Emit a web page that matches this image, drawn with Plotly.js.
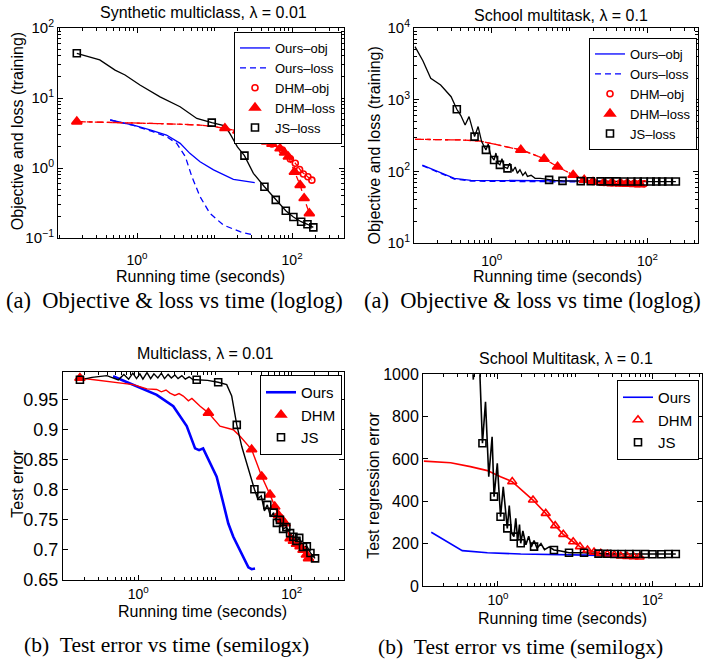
<!DOCTYPE html>
<html><head><meta charset="utf-8">
<script src="https://cdn.plot.ly/plotly-3.0.1.min.js"></script>
<style>html,body{margin:0;padding:0;background:#fff;}#chart{width:708px;height:664px;}</style>
</head><body><div id="chart"></div>
<script>
// ---------- Panel 1: Synthetic multiclass, lambda = 0.01 (loglog) ----------
const p1OursObjX = [0.45, 0.9, 1.47, 2.4, 3.6, 4.8, 6.5, 9.7, 17.5, 33];
const p1OursObjY = [4.85, 4.1, 3.5, 2.96, 2.25, 1.62, 1.23, 0.94, 0.69, 0.62];
const p1OursLossX = [0.45, 0.9, 1.6, 2.4, 3.25, 4.2, 5.1, 6.5, 8.7, 13, 21.3, 31.7];
const p1OursLossY = [4.85, 4.05, 3.3, 2.8, 2.25, 1.45, 0.75, 0.39, 0.225, 0.153, 0.123, 0.11];
const p1DhmObjX = [0.167, 0.3, 0.6, 1, 2, 4, 6.5, 10, 13.6, 20, 31.7, 47, 70, 89.6, 110, 133, 160, 180];
const p1DhmObjY = [4.6, 4.55, 4.45, 4.35, 4.3, 4.2, 4.1, 3.9, 3.7, 3.4, 2.96, 2.38, 1.9, 1.45, 1.17, 0.885, 0.75, 0.67];
const p1DhmLossX = [0.167, 0.3, 0.6, 1, 2, 4, 6.5, 10, 13.6, 20, 31.7, 47, 70, 89.6, 107, 127, 143, 167];
const p1DhmLossY = [4.6, 4.55, 4.45, 4.35, 4.3, 4.2, 4.1, 3.9, 3.7, 3.4, 2.96, 2.38, 1.9, 1.45, 0.88, 0.57, 0.37, 0.225];
const p1DhmObjMarkX = [20, 40, 55, 75, 95, 110, 125, 140, 160, 180];
const p1DhmObjMarkY = [3.4, 2.6, 2.2, 1.8, 1.35, 1.17, 0.95, 0.82, 0.75, 0.67];
const p1DhmLossMarkX = [0.167, 13.6, 20, 25, 31.7, 38, 47, 55, 70, 80, 89.6, 107, 127, 143, 167];
const p1DhmLossMarkY = [4.6, 3.7, 3.4, 3.2, 2.96, 2.7, 2.38, 2.2, 1.9, 1.65, 1.45, 0.88, 0.57, 0.37, 0.225];
const p1JsX = [0.167, 0.33, 0.52, 0.70, 1.09, 1.98, 3.59, 5.9, 9.2, 13.6, 15.8, 19.7, 24.3, 31.7, 44, 61.6, 83, 104, 131, 158, 188];
const p1JsY = [43.5, 35, 25, 21.3, 15.3, 10.4, 7.5, 5.1, 4.45, 4.0, 3.1, 2.0, 1.5, 0.84, 0.54, 0.35, 0.245, 0.2, 0.171, 0.157, 0.142];
const p1JsMarkX = [0.167, 9.2, 24.3, 44, 61.6, 83, 104, 131, 158, 188];
const p1JsMarkY = [43.5, 4.45, 1.5, 0.54, 0.35, 0.245, 0.2, 0.171, 0.157, 0.142];

// ---------- Panel 2: School multitask, lambda = 0.1 (loglog) ----------
const p2OursObjX = [0.128, 0.181, 0.25, 0.33, 0.54, 1.44, 5, 15, 30.6];
const p2OursObjY = [122, 105, 90, 80, 75, 74.5, 74, 73.5, 73];
const p2OursLossX = [0.128, 0.181, 0.25, 0.33, 0.54, 1.44, 5, 15, 30.6];
const p2OursLossY = [120, 103, 88, 78, 73, 72, 71.5, 71, 71];
const p2DhmObjX = [0.103, 0.2, 0.4, 0.7, 1.07, 1.6, 2.36, 3.3, 4.7, 7.0, 11.1, 15.4, 20, 27.7, 40, 60, 90.7];
const p2DhmObjY = [280, 278, 274, 265, 241, 222, 199, 175, 149, 116, 89, 76, 72, 70, 69, 68, 67];
const p2DhmLossX = [0.103, 0.2, 0.4, 0.7, 1.07, 1.6, 2.36, 3.3, 4.7, 7.0, 11.1, 15.4, 20, 27.7, 40, 60, 90.7];
const p2DhmLossY = [280, 278, 274, 265, 241, 222, 199, 175, 149, 116, 89, 76, 71, 69, 67, 66, 65];
const p2DhmObjMarkX = [20, 27.7, 35, 45, 55, 68, 80, 90.7];
const p2DhmObjMarkY = [72, 70, 69.5, 69, 68.5, 68, 67.5, 67];
const p2DhmLossMarkX = [2.36, 4.7, 7.0, 11.1, 15.4, 20, 27.7, 35, 45, 55, 68, 80];
const p2DhmLossMarkY = [199, 149, 116, 89, 76, 71, 69, 68, 67, 66.5, 66, 65.5];
const p2JsX = [0.103, 0.13, 0.164, 0.22, 0.30, 0.355, 0.40, 0.454, 0.51, 0.60, 0.667, 0.74, 0.84, 0.90, 0.97, 1.07, 1.13, 1.2, 1.27, 1.35, 1.45, 1.59, 1.7, 1.85, 2.0, 2.13, 2.3, 2.5, 2.7, 2.87, 3.2, 3.6, 4.2, 5.45, 6.5, 8.1, 12, 20, 40, 80, 150, 232];
const p2JsY = [5500, 3500, 1990, 1600, 1100, 735, 600, 444, 580, 305, 421, 260, 199, 240, 165, 144, 180, 130, 123, 150, 115, 110, 130, 100, 115, 94, 105, 88, 97, 85, 88, 80, 80, 76, 75, 73.5, 73, 72.5, 72.5, 72, 72, 72];
const p2JsMarkX = [0.355, 0.6, 0.84, 1.07, 1.27, 1.59, 5.45, 8.1, 13.9, 18.7, 25, 32, 40, 50, 62, 75, 90, 110, 130, 155, 185, 232];
const p2JsMarkY = [735, 305, 199, 144, 123, 110, 76, 73.5, 73, 72.8, 72.5, 72.5, 72.5, 72.3, 72.2, 72, 72, 72, 72, 72, 72, 72];

// ---------- Panel 3: Multiclass, lambda = 0.01 (semilogx) ----------
const p3OursX = [0.47, 0.86, 1.74, 2.86, 4.28, 5.5, 6.2, 7.0, 8.2, 10.5, 12.8, 14.9, 17.3, 21.2, 27.2, 30, 33.2];
const p3OursY = [0.989, 0.975, 0.958, 0.939, 0.906, 0.869, 0.866, 0.869, 0.85, 0.822, 0.778, 0.744, 0.722, 0.7, 0.671, 0.668, 0.669];
const p3DhmX = [0.174, 0.43, 0.86, 1.3, 1.74, 2.0, 2.3, 2.59, 3.0, 3.4, 3.86, 4.5, 5.0, 6.4, 8.2, 11.6, 17.3, 21.2, 30, 40.6, 52, 66.9, 81.8, 95, 128, 165];
const p3DhmY = [0.986, 0.98, 0.975, 0.968, 0.967, 0.963, 0.966, 0.961, 0.957, 0.96, 0.956, 0.948, 0.952, 0.939, 0.928, 0.906, 0.9, 0.889, 0.867, 0.822, 0.792, 0.758, 0.744, 0.719, 0.706, 0.686];
const p3DhmMarkX = [0.174, 8.2, 30, 40.6, 52, 60, 66.9, 75, 81.8, 95, 105, 115, 128, 140, 155, 165];
const p3DhmMarkY = [0.986, 0.928, 0.867, 0.822, 0.792, 0.772, 0.758, 0.75, 0.744, 0.719, 0.715, 0.71, 0.706, 0.7, 0.692, 0.686];
const p3JsX = [0.174, 0.25, 0.39, 0.55, 0.65, 0.75, 0.85, 0.95, 1.05, 1.15, 1.3, 1.45, 1.6, 1.8, 2.0, 2.2, 2.45, 2.7, 3.0, 3.3, 3.7, 4.1, 4.6, 5.2, 5.77, 8, 11, 14.2, 16.5, 19.2, 22.3, 27.2, 32.6, 36, 40, 44, 48, 53, 58, 64, 70, 77, 85, 95, 105, 115, 125, 140, 157, 175, 201];
const p3JsY = [0.983, 0.987, 0.99, 0.983, 0.992, 0.984, 0.994, 0.985, 0.993, 0.984, 0.995, 0.985, 0.993, 0.986, 0.994, 0.985, 0.992, 0.986, 0.991, 0.985, 0.99, 0.984, 0.988, 0.983, 0.983, 0.982, 0.979, 0.975, 0.956, 0.908, 0.872, 0.833, 0.801, 0.785, 0.79, 0.765, 0.775, 0.755, 0.762, 0.745, 0.75, 0.735, 0.738, 0.728, 0.722, 0.715, 0.72, 0.705, 0.706, 0.695, 0.686];
const p3JsMarkX = [0.174, 5.77, 11, 19.2, 32.6, 40, 48, 58, 64, 70, 77, 85, 95, 105, 115, 125, 140, 157, 175, 201];
const p3JsMarkY = [0.983, 0.983, 0.979, 0.908, 0.801, 0.79, 0.775, 0.762, 0.745, 0.75, 0.735, 0.738, 0.728, 0.722, 0.715, 0.72, 0.705, 0.706, 0.695, 0.686];

// ---------- Panel 4: School Multitask, lambda = 0.1 (semilogx) ----------
const p4OursX = [0.137, 0.345, 0.73, 1.97, 14.4, 35];
const p4OursY = [254, 167, 157, 151, 146, 142];
const p4DhmX = [0.11, 0.244, 0.44, 0.73, 1.08, 1.53, 2.84, 4.15, 5.5, 7.0, 9.4, 11.5, 14.4, 21.4, 38.8, 77.8];
const p4DhmY = [590, 582, 564, 545, 516, 493, 406, 343, 285, 244, 209, 186, 170, 154, 142, 136];
const p4DhmMarkX = [1.53, 2.84, 4.15, 5.5, 7.0, 9.4, 11.5, 14.4, 17.5, 21.4, 26, 32, 38.8, 47, 57, 68];
const p4DhmMarkY = [493, 406, 343, 285, 244, 209, 186, 170, 160, 154, 150, 146, 142, 140, 138, 137];
const p4JsX = [0.46, 0.48, 0.5, 0.57, 0.63, 0.69, 0.76, 0.84, 0.89, 0.98, 1.08, 1.17, 1.32, 1.4, 1.5, 1.61, 1.7, 1.8, 1.9, 1.97, 2.1, 2.3, 2.5, 2.7, 2.93, 3.2, 3.6, 4.0, 4.6, 5.3, 6.5, 8.3, 13, 20, 40, 80, 130, 200];
const p4JsY = [1100, 975, 1150, 1100, 674, 870, 516, 705, 422, 580, 327, 469, 272, 380, 250, 233, 320, 215, 290, 202, 260, 195, 235, 185, 215, 178, 200, 172, 185, 170, 165, 157, 157, 153, 151, 151, 150, 151];
const p4JsMarkX = [0.63, 0.89, 1.08, 1.32, 1.61, 1.97, 2.93, 5.3, 8.3, 13, 20, 26, 32, 40, 50, 62, 80, 100, 130, 160, 200];
const p4JsMarkY = [674, 422, 327, 272, 233, 202, 186, 170, 157, 157, 153, 152, 151, 151, 151, 151, 151, 150, 150, 151, 151];

// ---------- Text ----------
const titles = ['Synthetic multiclass, \u03bb = 0.01', 'School multitask, \u03bb = 0.1', 'Multiclass, \u03bb = 0.01', 'School Multitask, \u03bb = 0.1'];
const xTitle = 'Running time (seconds)';
const yTitles = ['Objective and loss (training)', 'Objective and loss (training)', 'Test error', 'Test regression error'];
const captions = ['(a)\u2002Objective &amp; loss vs time (loglog)', '(a)\u2002Objective &amp; loss vs time (loglog)', '(b)\u2002Test error vs time (semilogx)', '(b)\u2002Test error vs time (semilogx)'];
const logTickVals = [0.1, 1, 10, 100, 1000, 10000];
const logTickText = ['10<sup>\u22121</sup>', '10<sup>0</sup>', '10<sup>1</sup>', '10<sup>2</sup>', '10<sup>3</sup>', '10<sup>4</sup>'];
const xTickVals = [1, 100];
const xTickText = ['10<sup>0</sup>', '10<sup>2</sup>'];
const p3YTicks = [0.65, 0.7, 0.75, 0.8, 0.85, 0.9, 0.95];
const p3YTickText = ['0.65', '0.7', '0.75', '0.8', '0.85', '0.9', '0.95'];
const p4YTicks = [0, 200, 400, 600, 800, 1000];

// ---------- Styling ----------
const W = 708, H = 664;
const SANS = 'Liberation Sans, Arial, Helvetica, sans-serif';
const SERIF = 'Liberation Serif, Times New Roman, serif';
const BLUE = '#0000ff', RED = '#ff0000', BLACK = '#000000';
const px = v => v / W, py = v => 1 - v / H;

function line(x, y, xa, ya, color, width, dash, name, legend, show) {
  return {x: x, y: y, xaxis: xa, yaxis: ya, type: 'scatter', mode: 'lines', name: name,
    legend: legend, showlegend: !!show, line: {color: color, width: width, dash: dash || 'solid'}, hoverinfo: 'skip'};
}
function marks(x, y, xa, ya, color, symbol, size, name, legend) {
  return {x: x, y: y, xaxis: xa, yaxis: ya, type: 'scatter', mode: 'markers', name: name, legend: legend,
    showlegend: true, marker: {color: color, symbol: symbol, size: size, line: {color: color, width: 1.6}}, hoverinfo: 'skip'};
}

const traces = [
  // panel 1
  line(p1OursObjX, p1OursObjY, 'x', 'y', BLUE, 1.3, 'solid', 'Ours\u2013obj', 'legend', true),
  line(p1OursLossX, p1OursLossY, 'x', 'y', BLUE, 1.3, '6px,4px', 'Ours\u2013loss', 'legend', true),
  line(p1DhmObjX, p1DhmObjY, 'x', 'y', RED, 1.3, 'dashdot', 'dhm obj line', 'legend', false),
  line(p1DhmLossX, p1DhmLossY, 'x', 'y', RED, 1.3, '6px,4px', 'dhm loss line', 'legend', false),
  line(p1JsX, p1JsY, 'x', 'y', BLACK, 1.3, 'solid', 'js line', 'legend', false),
  marks(p1DhmObjMarkX, p1DhmObjMarkY, 'x', 'y', RED, 'circle-open', 6, 'DHM\u2013obj', 'legend'),
  marks(p1DhmLossMarkX, p1DhmLossMarkY, 'x', 'y', RED, 'triangle-up', 9, 'DHM\u2013loss', 'legend'),
  marks(p1JsMarkX, p1JsMarkY, 'x', 'y', BLACK, 'square-open', 7, 'JS\u2013loss', 'legend'),
  // panel 2
  line(p2OursObjX, p2OursObjY, 'x2', 'y2', BLUE, 1.3, 'solid', 'Ours\u2013obj', 'legend2', true),
  line(p2OursLossX, p2OursLossY, 'x2', 'y2', BLUE, 1.3, '6px,4px', 'Ours\u2013loss', 'legend2', true),
  line(p2DhmObjX, p2DhmObjY, 'x2', 'y2', RED, 1.3, 'dashdot', 'dhm obj line', 'legend2', false),
  line(p2DhmLossX, p2DhmLossY, 'x2', 'y2', RED, 1.3, '6px,4px', 'dhm loss line', 'legend2', false),
  line(p2JsX, p2JsY, 'x2', 'y2', BLACK, 1.3, 'solid', 'js line', 'legend2', false),
  marks(p2DhmObjMarkX, p2DhmObjMarkY, 'x2', 'y2', RED, 'circle-open', 6, 'DHM\u2013obj', 'legend2'),
  marks(p2DhmLossMarkX, p2DhmLossMarkY, 'x2', 'y2', RED, 'triangle-up', 9, 'DHM\u2013loss', 'legend2'),
  marks(p2JsMarkX, p2JsMarkY, 'x2', 'y2', BLACK, 'square-open', 7, 'JS\u2013loss', 'legend2'),
  // panel 3
  line(p3OursX, p3OursY, 'x3', 'y3', BLUE, 2.6, 'solid', 'Ours', 'legend3', true),
  line(p3DhmX, p3DhmY, 'x3', 'y3', RED, 1.4, 'solid', 'dhm line', 'legend3', false),
  line(p3JsX, p3JsY, 'x3', 'y3', BLACK, 1.4, 'solid', 'js line', 'legend3', false),
  marks(p3DhmMarkX, p3DhmMarkY, 'x3', 'y3', RED, 'triangle-up', 9, 'DHM', 'legend3'),
  marks(p3JsMarkX, p3JsMarkY, 'x3', 'y3', BLACK, 'square-open', 7, 'JS', 'legend3'),
  // panel 4
  line(p4OursX, p4OursY, 'x4', 'y4', BLUE, 1.6, 'solid', 'Ours', 'legend4', true),
  line(p4DhmX, p4DhmY, 'x4', 'y4', RED, 1.6, 'solid', 'dhm line', 'legend4', false),
  line(p4JsX, p4JsY, 'x4', 'y4', BLACK, 1.6, 'solid', 'js line', 'legend4', false),
  marks(p4DhmMarkX, p4DhmMarkY, 'x4', 'y4', RED, 'triangle-up-open', 8, 'DHM', 'legend4'),
  marks(p4JsMarkX, p4JsMarkY, 'x4', 'y4', BLACK, 'square-open', 7, 'JS', 'legend4')
];

function axis(o) {
  return Object.assign({showline: true, linecolor: BLACK, linewidth: 1, mirror: 'ticks', ticks: 'inside', ticklen: 5,
    tickcolor: BLACK, showgrid: false, zeroline: false, fixedrange: true,
    tickfont: {family: SANS, size: 15, color: BLACK}}, o);
}
const minorLog = {ticks: 'inside', ticklen: 3, tickcolor: BLACK, dtick: 'D1', showgrid: false};
const xTickFont = {family: SANS, size: 14, color: BLACK};

function legendBox(xr, yt, size) {
  return {x: px(xr), y: py(yt), xanchor: 'right', yanchor: 'top', bgcolor: '#ffffff', bordercolor: BLACK,
    borderwidth: 1, font: {family: SANS, size: size, color: BLACK}, tracegroupgap: 0, itemwidth: 30};
}

function ann(text, x, y, size, family, angle) {
  return {text: text, x: px(x), y: py(y), xref: 'paper', yref: 'paper', showarrow: false,
    xanchor: 'center', yanchor: 'middle', textangle: angle || 0, font: {family: family, size: size, color: BLACK}};
}

const layout = {
  width: W, height: H, margin: {l: 0, r: 0, t: 0, b: 0}, paper_bgcolor: '#fff', plot_bgcolor: '#fff',
  showlegend: true,
  xaxis: axis({type: 'log', domain: [px(58), px(344)], range: [-1.02, 2.67], anchor: 'y', tickmode: 'array', tickvals: xTickVals, ticktext: xTickText, minor: minorLog, ticklabelstandoff: 9, tickfont: xTickFont}),
  yaxis: axis({type: 'log', domain: [py(238), py(28)], range: [-1, 2], anchor: 'x', tickmode: 'array', tickvals: logTickVals, ticktext: logTickText, minor: minorLog}),
  xaxis2: axis({type: 'log', domain: [px(414), px(698)], range: [-1.0, 2.65], anchor: 'y2', tickmode: 'array', tickvals: xTickVals, ticktext: xTickText, minor: minorLog, ticklabelstandoff: 5, tickfont: xTickFont}),
  yaxis2: axis({type: 'log', domain: [py(243), py(28)], range: [1, 4], anchor: 'x2', tickmode: 'array', tickvals: logTickVals, ticktext: logTickText, minor: minorLog}),
  xaxis3: axis({type: 'log', domain: [px(63), px(344)], range: [-0.98, 2.68], anchor: 'y3', tickmode: 'array', tickvals: xTickVals, ticktext: xTickText, minor: minorLog, ticklabelstandoff: 1, tickfont: xTickFont}),
  yaxis3: axis({type: 'linear', domain: [py(580), py(371.7)], range: [0.65, 0.9965], anchor: 'x3', tickmode: 'array', tickvals: p3YTicks, ticktext: p3YTickText, tickfont: {family: SANS, size: 18, color: BLACK}}),
  xaxis4: axis({type: 'log', domain: [px(423), px(702)], range: [-0.97, 2.64], anchor: 'y4', tickmode: 'array', tickvals: xTickVals, ticktext: xTickText, minor: minorLog, ticklabelstandoff: 1, tickfont: xTickFont}),
  yaxis4: axis({type: 'linear', domain: [py(586), py(374.3)], range: [0, 1000], anchor: 'x4', tickmode: 'array', tickvals: p4YTicks, tickfont: {family: SANS, size: 16, color: BLACK}}),
  legend: legendBox(342, 32, 13),
  legend2: legendBox(697, 38, 13),
  legend3: legendBox(342, 375, 15),
  legend4: legendBox(699, 380, 15),
  annotations: [
    ann(titles[0], 203.5, 12, 16, SANS), ann(titles[1], 560.7, 16, 16, SANS),
    ann(titles[2], 205, 353.3, 16, SANS), ann(titles[3], 565.7, 358.3, 16, SANS),
    ann(xTitle, 200.8, 276, 16, SANS), ann(xTitle, 557.3, 276, 16, SANS),
    ann(xTitle, 202.5, 611, 16, SANS), ann(xTitle, 562.3, 618, 16, SANS),
    ann(yTitles[0], 17.5, 131.7, 16, SANS, -90), ann(yTitles[1], 374.7, 145.8, 16, SANS, -90),
    ann(yTitles[2], 16.7, 484, 16, SANS, -90), ann(yTitles[3], 374, 485.8, 16, SANS, -90),
    ann(captions[0], 174.5, 300, 22.5, SERIF), ann(captions[1], 532, 300, 22.5, SERIF),
    ann(captions[2], 166, 645, 21.5, SERIF), ann(captions[3], 520.7, 647, 21.5, SERIF)
  ]
};

Plotly.newPlot('chart', traces, layout, {displayModeBar: false, staticPlot: true});
</script></body></html>
